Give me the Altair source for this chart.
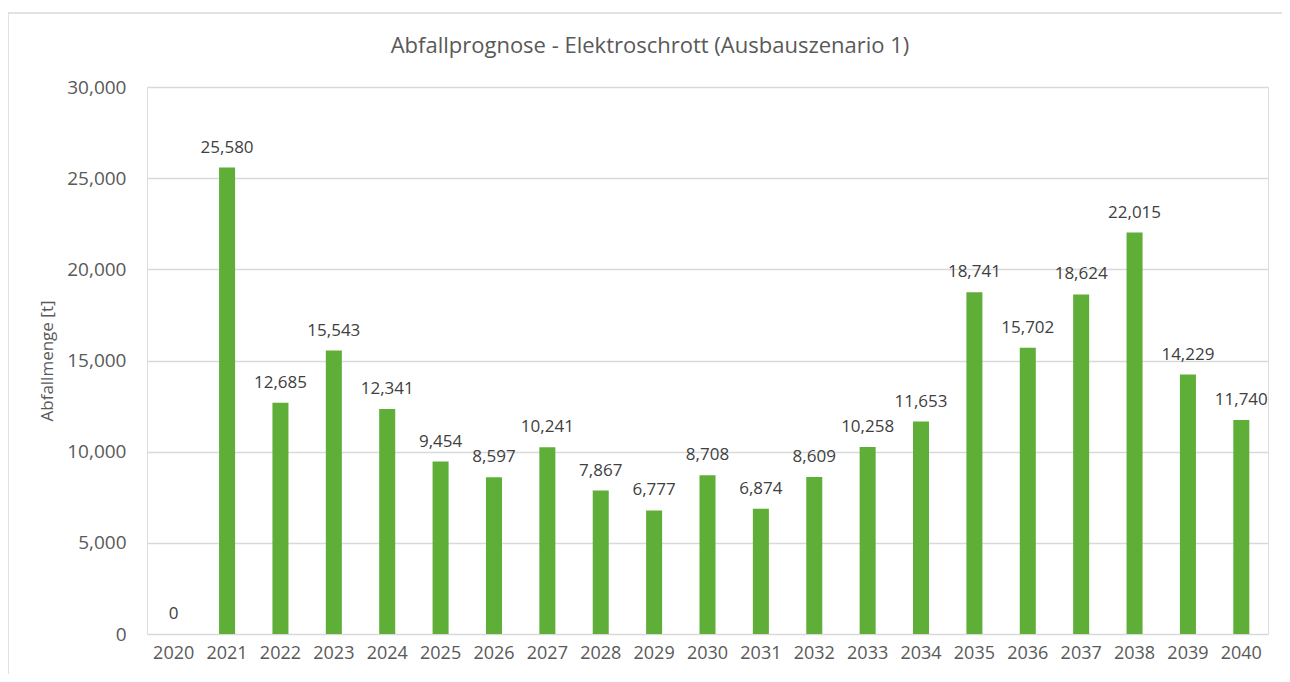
import altair as alt
import pandas as pd

years = [str(y) for y in range(2020, 2041)]
values = [0, 25580, 12685, 15543, 12341, 9454, 8597, 10241, 7867, 6777, 8708,
          6874, 8609, 10258, 11653, 18741, 15702, 18624, 22015, 14229, 11740]
y_ticks = [0, 5000, 10000, 15000, 20000, 25000, 30000]
title_text = ["Abfallprognose - Elektroschrott (Ausbauszenario 1)"]

df = pd.DataFrame({"Jahr": years, "Menge": values})

FONT = "Open Sans"
W, H = 1121, 547
PAD = {"left": 139, "top": 79, "right": 14, "bottom": 40}

base = alt.Chart(df)

x_enc = alt.X("Jahr:N", sort=years,
              scale=alt.Scale(paddingInner=0.7, paddingOuter=0.35),
              axis=alt.Axis(title=None, labelAngle=0, domain=False, ticks=False,
                            labelFont=FONT, labelFontSize=18, labelColor="#595959",
                            labelPadding=10))
y_enc = alt.Y("Menge:Q",
              scale=alt.Scale(domain=[0, 30000], nice=False),
              axis=alt.Axis(title="Abfallmenge [t]", values=y_ticks, format=",.0f",
                            domain=False, ticks=False, grid=True,
                            gridColor="#D9D9D9", gridWidth=1.3,
                            labelFont=FONT, labelFontSize=19, labelColor="#595959",
                            labelPadding=21, titleFont=FONT, titleFontSize=17,
                            titleColor="#595959", titleFontWeight="normal",
                            titlePadding=10))

bars = base.mark_bar(color="#5EAE37").encode(x=x_enc, y=y_enc)

labels = base.mark_text(baseline="alphabetic", dy=-15, font=FONT, fontSize=17,
                        color="#404040").encode(
    x=alt.X("Jahr:N", sort=years), y="Menge:Q", text=alt.Text("Menge:Q", format=",.0f"))

title = alt.Chart(pd.DataFrame({"t": title_text})).mark_text(
    font=FONT, fontSize=22, color="#595959", align="center", baseline="middle",
    clip=False).encode(x=alt.value(503), y=alt.value(-41), text="t:N")

border = alt.Chart(pd.DataFrame({"a": [0]})).mark_rect(
    fill=None, stroke="#D9D9D9", strokeWidth=1.5, clip=False).encode(
    x=alt.value(-139), x2=alt.value(1200), y=alt.value(-74), y2=alt.value(700))

chart = alt.layer(bars, labels, title, border).properties(
    width=W, height=H,
    padding=PAD,
    autosize=alt.AutoSizeParams(type="none"),
).configure_view(stroke=None).configure(background="white")

chart.save("out.html", embed_options={"renderer": "svg", "actions": False})
